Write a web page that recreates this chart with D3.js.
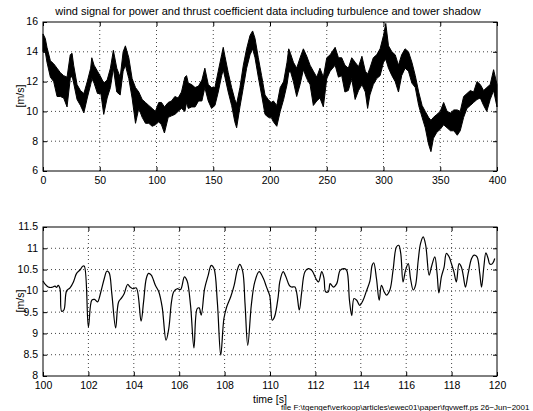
<!DOCTYPE html>
<html>
<head>
<meta charset="utf-8">
<script src="https://cdn.jsdelivr.net/npm/d3@7"></script>
<style>
  body { margin: 0; background: #fff; }
  text { font-family: "Liberation Sans", Arial, sans-serif; fill: #000; }
</style>
</head>
<body>
<div id="chart"></div>
<script>
// top panel: envelope of the dense wind signal (max / min around each time)
const topTime = [0, 2, 3.5, 6.5, 9.4, 12.4, 15.3, 18.2, 21.2, 24, 25.6, 27, 30, 33, 36, 39, 42, 43, 45, 48,
  51, 53.5, 56.5, 59.4, 62, 65, 68, 70.6, 72.6, 75.6, 78.5, 81.5, 84.4, 87.4, 90.3, 93.2, 96.2, 99, 102, 104.4,
  107, 110.3, 113.2, 116.2, 119, 122, 125, 126.5, 128, 131, 134, 137, 140, 142.6, 145.6, 148.5, 151.5, 154.4, 157.4, 158.8,
  160.3, 163.2, 166.2, 169, 170.6, 173.5, 176.5, 179.4, 182.4, 184.7, 186.8, 189.7, 192.6, 195.6, 198.5, 201, 203, 206, 209, 212,
  215, 216.5, 218, 220.6, 223.5, 226.5, 229.4, 232.4, 235.3, 238.2, 241.2, 244, 247, 250, 253, 257.4, 260.3, 263.2, 266, 269,
  272, 275, 278, 281, 284, 286, 288, 291, 294, 297, 300, 302, 304.4, 307.4, 310.3, 313.2, 316, 319, 322, 325,
  328, 331, 334, 336.8, 339.7, 341.8, 344, 347, 350, 353, 356, 359, 362, 365, 367.6, 370.6, 373.5, 376.5, 379.4, 382.4,
  385.3, 388.2, 391, 394, 397, 400];
const topHigh = [15.2, 14.9, 14.3, 13.4, 13.2, 12.9, 12.6, 12.4, 12.3, 13.8, 13.9, 13.1, 11.8, 11.4, 11.2, 12.0, 12.9, 13.6, 13.1, 12.7,
  12.3, 11.9, 12.1, 12.9, 14.1, 12.9, 12.3, 14.0, 14.4, 13.6, 12.2, 11.6, 11.3, 10.8, 10.6, 10.4, 10.2, 10.0, 10.6, 10.6,
  10.3, 10.6, 10.7, 11.0, 10.9, 11.3, 12.3, 12.4, 11.9, 11.8, 11.6, 11.7, 12.1, 12.9, 11.8, 11.6, 11.6, 12.7, 13.8, 14.3,
  13.7, 12.6, 11.6, 10.8, 10.5, 11.6, 13.1, 14.2, 15.1, 15.4, 14.9, 13.6, 12.4, 11.1, 10.8, 10.6, 10.7, 10.4, 11.6, 12.0,
  13.3, 14.2, 13.9, 13.3, 12.9, 13.6, 14.2, 13.7, 13.1, 12.7, 12.3, 12.9, 12.3, 13.6, 13.8, 14.3, 13.6, 13.6, 13.1, 12.9,
  13.6, 13.3, 13.0, 13.7, 12.7, 12.5, 12.9, 13.6, 13.8, 14.2, 15.1, 15.9, 14.4, 14.0, 13.8, 13.1, 13.8, 14.2, 14.0, 13.3,
  12.4, 11.3, 10.4, 10.0, 9.6, 9.4, 9.6, 9.8, 10.0, 10.6, 10.0, 9.9, 10.1, 10.1, 10.0, 11.0, 11.2, 11.4, 11.3, 12.0,
  11.8, 11.4, 11.6, 11.8, 12.8, 11.8];
const topLow = [14.0, 14.0, 13.3, 12.3, 12.0, 11.0, 11.0, 10.9, 10.3, 12.2, 12.4, 11.9, 10.8, 10.4, 9.9, 10.9, 11.8, 12.2, 11.9, 11.2,
  11.2, 9.8, 10.9, 11.6, 12.9, 11.3, 11.1, 12.7, 13.1, 12.2, 10.9, 9.2, 10.2, 9.6, 9.2, 9.2, 9.0, 9.1, 9.3, 9.1,
  8.55, 9.6, 9.7, 9.8, 10.0, 10.2, 10.0, 10.6, 10.2, 10.3, 10.3, 10.7, 10.7, 11.6, 10.7, 10.2, 10.4, 11.3, 12.4, 12.8,
  12.3, 11.3, 10.4, 9.3, 8.9, 10.3, 11.6, 12.9, 13.8, 14.2, 13.6, 12.3, 11.1, 9.8, 9.6, 9.6, 9.3, 9.0, 10.0, 10.8,
  11.8, 12.6, 12.7, 12.0, 11.0, 11.8, 12.8, 12.2, 11.8, 10.4, 10.7, 10.9, 10.3, 12.2, 12.7, 13.1, 12.3, 12.4, 11.3, 11.4,
  12.2, 10.8, 11.4, 11.8, 11.3, 10.2, 11.1, 11.8, 12.2, 12.4, 13.3, 13.5, 12.9, 12.4, 12.0, 11.3, 12.4, 12.9, 12.7, 11.9,
  11.6, 10.4, 9.6, 8.9, 7.8, 7.3, 8.2, 8.6, 8.8, 9.1, 8.9, 8.7, 8.7, 8.4, 8.7, 9.6, 10.2, 10.4, 10.6, 10.8,
  10.9, 10.4, 10.0, 10.8, 11.4, 10.3];

// bottom panel: zoom on 100-120 s
const botTime = [100.0, 100.1, 100.23, 100.38, 100.53, 100.6, 100.67, 100.75, 100.82, 100.92, 101.04, 101.19, 101.34, 101.48, 101.63, 101.75, 101.82,
  102.0, 102.15, 102.27, 102.4, 102.55, 102.7, 102.81, 102.91, 103.03, 103.2, 103.33, 103.47, 103.58, 103.73, 103.84, 103.96,
  104.11, 104.32, 104.43, 104.55, 104.65, 104.77, 104.95, 105.1, 105.25, 105.42, 105.54, 105.66, 105.76, 105.91,
  106.06, 106.23, 106.35, 106.5, 106.65, 106.79, 106.88, 106.97, 107.12, 107.28, 107.41, 107.53, 107.68, 107.83, 107.97,
  108.09, 108.27, 108.42, 108.56, 108.67, 108.8, 108.9, 109.02, 109.18, 109.33, 109.52, 109.7, 109.84, 109.99,
  110.1, 110.2, 110.36, 110.43, 110.58, 110.7, 110.85, 110.95, 111.1, 111.29, 111.39, 111.54, 111.69, 111.84,
  112.06, 112.14, 112.28, 112.38, 112.45, 112.57, 112.65, 112.79, 112.94, 113.09, 113.27, 113.38, 113.5, 113.6, 113.7, 113.82, 113.95,
  114.1, 114.25, 114.4, 114.5, 114.57, 114.69, 114.81, 114.91, 115.03, 115.13, 115.28, 115.42, 115.57, 115.67, 115.76, 115.86, 115.97,
  116.09, 116.19, 116.31, 116.41, 116.53, 116.63, 116.75, 116.86, 117.01, 117.11, 117.26, 117.36, 117.44, 117.55, 117.67, 117.77, 117.89, 117.99,
  118.1, 118.21, 118.33, 118.43, 118.51, 118.61, 118.73, 118.88, 118.99, 119.12, 119.24, 119.32, 119.42, 119.51, 119.61, 119.68, 119.8, 119.9];
const botSpeed = [10.23, 10.15, 10.09, 10.08, 10.11, 10.08, 10.13, 10.05, 9.52, 9.55, 10.0, 10.07, 10.21, 10.41, 10.49, 10.58, 10.58,
  9.15, 9.78, 9.8, 9.74, 9.98, 10.29, 10.46, 10.43, 9.94, 9.13, 9.74, 9.84, 9.94, 10.15, 10.09, 10.05,
  10.07, 9.29, 9.74, 10.29, 10.41, 10.37, 10.13, 9.98, 9.62, 8.84, 9.11, 9.74, 9.98, 10.05,
  10.03, 10.33, 10.23, 9.66, 8.66, 9.58, 9.6, 9.43, 10.05, 10.37, 10.6, 10.53, 9.74, 8.49, 9.35,
  9.62, 9.86, 10.13, 10.49, 10.62, 10.45, 9.7, 8.72, 9.68, 10.21, 10.45, 10.3, 10.1, 9.88,
  9.31, 9.39, 9.86, 10.21, 10.45, 10.33, 10.13, 10.09, 10.09, 9.55, 9.94, 10.45, 10.52, 10.48,
  10.25, 10.21, 10.45, 10.29, 9.98, 9.98, 10.17, 10.09, 10.17, 10.48, 10.52, 10.48, 9.78, 9.42, 9.82, 9.78, 9.66,
  9.78, 10.0, 10.23, 10.6, 10.66, 10.29, 9.78, 10.13, 9.98, 9.9, 10.02, 10.48, 11.03, 11.07, 10.88, 10.21, 10.48,
  10.64, 10.29, 10.02, 10.13, 10.72, 11.11, 11.27, 11.07, 10.37, 10.56, 10.8, 10.41, 9.95, 10.33, 10.56, 10.88, 10.8, 10.64,
  10.45, 10.21, 10.64, 10.56, 10.37, 10.09, 10.41, 10.76, 10.84, 10.8, 10.41, 10.09, 10.56, 10.89, 10.76, 10.63, 10.64, 10.76];

const topXTicks = [0, 50, 100, 150, 200, 250, 300, 350, 400];
const topYTicks = [6, 8, 10, 12, 14, 16];
const botXTicks = [100, 102, 104, 106, 108, 110, 112, 114, 116, 118, 120];
const botYTicks = [8, 8.5, 9, 9.5, 10, 10.5, 11, 11.5];

const W = 533, H = 411;
const left = 43, right = 497;
const fontSize = "10.5px";

const svg = d3.select("#chart").append("svg")
    .attr("width", W)
    .attr("height", H);

svg.append("rect").attr("width", W).attr("height", H).attr("fill", "#fff");

// draws box, dotted grid, inward ticks on all sides and labels
function drawFrame(x, y, xTicks, yTicks, yFmt) {
    const [x0, x1] = x.range();
    const [y0, y1] = y.range(); // y0 bottom, y1 top
    const g = svg.append("g");

    g.selectAll(".gx").data(xTicks.slice(1, -1)).enter().append("line")
        .attr("x1", d => x(d)).attr("x2", d => x(d))
        .attr("y1", y0).attr("y2", y1)
        .attr("stroke", "#444").attr("stroke-dasharray", "1,3");
    g.selectAll(".gy").data(yTicks.slice(1, -1)).enter().append("line")
        .attr("x1", x0).attr("x2", x1)
        .attr("y1", d => y(d)).attr("y2", d => y(d))
        .attr("stroke", "#444").attr("stroke-dasharray", "1,3");

    // bottom + left axes with labels, ticks pointing inward
    g.append("g")
        .attr("transform", `translate(0,${y0})`)
        .call(d3.axisBottom(x).tickValues(xTicks).tickSize(-4).tickPadding(6).tickSizeOuter(0))
        .call(a => a.select(".domain").remove());
    g.append("g")
        .attr("transform", `translate(${x0},0)`)
        .call(d3.axisLeft(y).tickValues(yTicks).tickFormat(yFmt).tickSize(-4).tickPadding(5).tickSizeOuter(0))
        .call(a => a.select(".domain").remove())
        .call(a => a.selectAll(".tick text").attr("dy", "0.28em"));
    // mirrored ticks at top and right, no labels
    g.append("g")
        .attr("transform", `translate(0,${y1})`)
        .call(d3.axisTop(x).tickValues(xTicks).tickSize(-4).tickFormat("").tickSizeOuter(0))
        .call(a => a.select(".domain").remove());
    g.append("g")
        .attr("transform", `translate(${x1},0)`)
        .call(d3.axisRight(y).tickValues(yTicks).tickSize(-4).tickFormat("").tickSizeOuter(0))
        .call(a => a.select(".domain").remove());

    g.selectAll(".tick text")
        .style("font-family", '"Liberation Sans", Arial, sans-serif')
        .style("font-size", fontSize);
    g.selectAll(".tick line").attr("stroke", "#000");

    g.append("rect")
        .attr("x", x0).attr("y", y1)
        .attr("width", x1 - x0).attr("height", y0 - y1)
        .attr("fill", "none").attr("stroke", "#000").attr("stroke-width", 1);
    return g;
}

// ---- top panel
const xTop = d3.scaleLinear().domain([0, 400]).range([left, right]);
const yTop = d3.scaleLinear().domain([6, 16]).range([171, 22]);

drawFrame(xTop, yTop, topXTicks, topYTicks, d3.format("d"));

const topData = topTime.map((t, i) => ({ t: t, hi: topHigh[i], lo: topLow[i] }));

const band = d3.area()
    .x(d => xTop(d.t))
    .y0(d => yTop(d.lo))
    .y1(d => yTop(d.hi));

svg.append("path")
    .datum(topData)
    .attr("fill", "#000")
    .attr("stroke", "#000")
    .attr("stroke-width", 1)
    .attr("d", band);

svg.append("text")
    .attr("x", 268)
    .attr("y", 15)
    .attr("text-anchor", "middle")
    .style("font-size", "11px")
    .text("wind signal for power and thrust coefficient data including turbulence and tower shadow");

svg.append("text")
    .attr("transform", "rotate(-90)")
    .attr("x", -96)
    .attr("y", 24)
    .attr("text-anchor", "middle")
    .style("font-size", fontSize)
    .text("[m/s]");

// ---- bottom panel
const xBot = d3.scaleLinear().domain([100, 120]).range([left, right]);
const yBot = d3.scaleLinear().domain([8, 11.5]).range([376, 227]);

drawFrame(xBot, yBot, botXTicks, botYTicks, d => d3.format("~g")(d));

const line = d3.line()
    .x((d, i) => xBot(botTime[i]))
    .y(d => yBot(d))
    .curve(d3.curveCatmullRom.alpha(0.5));

svg.append("path")
    .datum(botSpeed)
    .attr("fill", "none")
    .attr("stroke", "#000")
    .attr("stroke-width", 1.2)
    .attr("d", line);

svg.append("text")
    .attr("transform", "rotate(-90)")
    .attr("x", -301)
    .attr("y", 24)
    .attr("text-anchor", "middle")
    .style("font-size", fontSize)
    .text("[m/s]");

svg.append("text")
    .attr("x", 270)
    .attr("y", 403)
    .attr("text-anchor", "middle")
    .style("font-size", fontSize)
    .text("time [s]");

svg.append("text")
    .attr("x", 281)
    .attr("y", 410)
    .style("font-size", "8px")
    .text("file F:\\tgengef\\verkoop\\articles\\ewec01\\paper\\fgvweff.ps  26\u2212Jun\u22122001");
</script>
</body>
</html>
